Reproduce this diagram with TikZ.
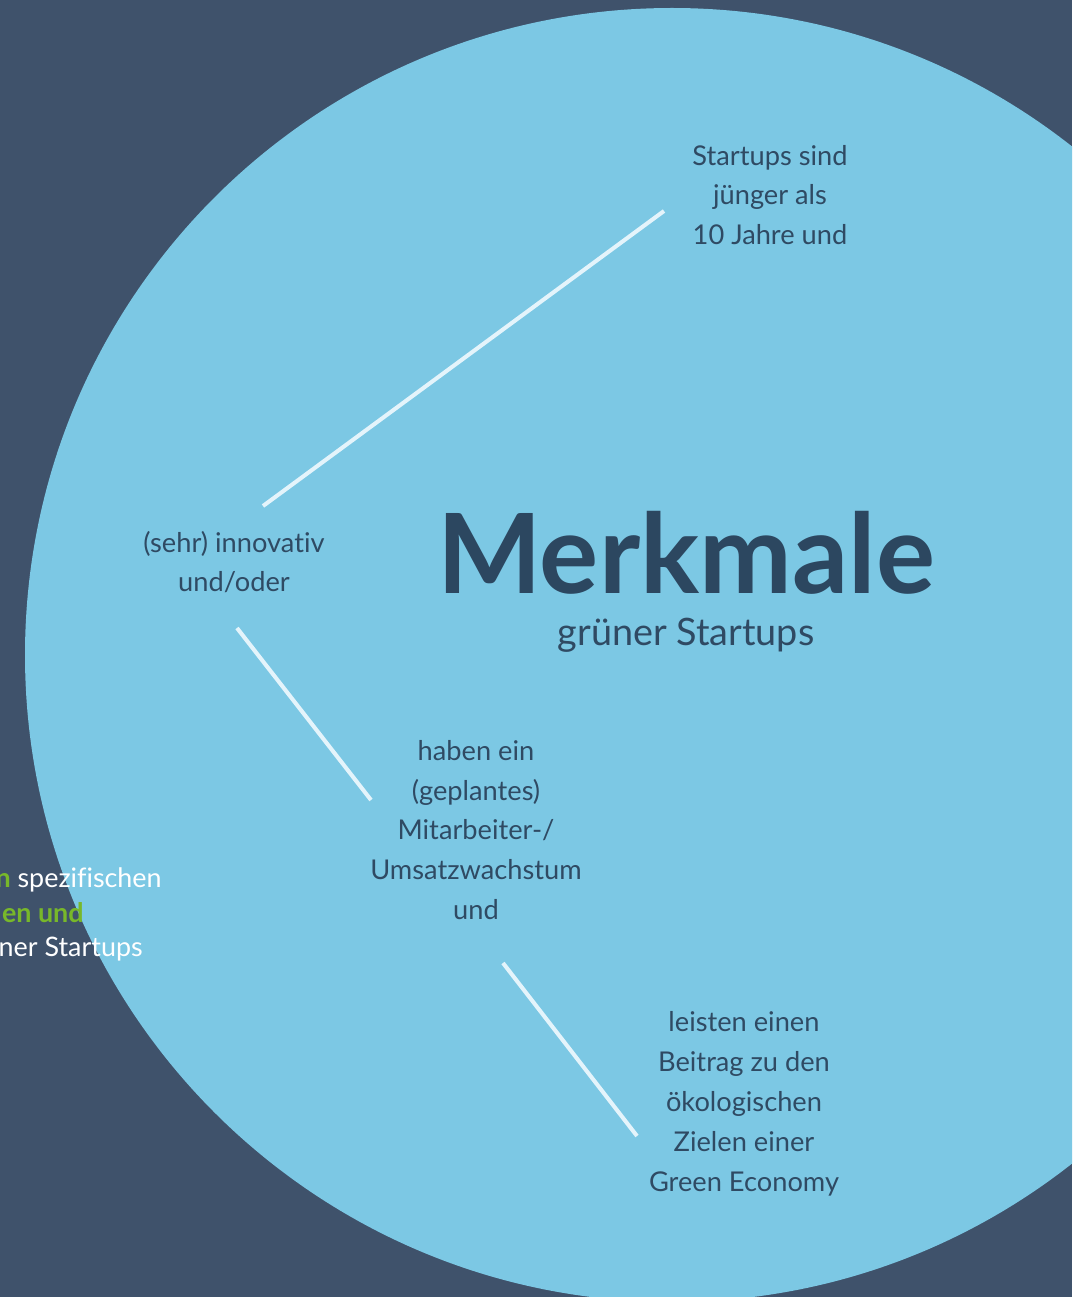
\documentclass[tikz,border=0pt]{standalone}
\usepackage{fontspec}
\setmainfont{Lato}[Ligatures=CommonOff]
\definecolor{bgslate}{HTML}{3F526B}
\definecolor{circblue}{HTML}{7CC8E4}
\definecolor{navy}{HTML}{2C4760}
\definecolor{txtblue}{HTML}{2F4A63}
\definecolor{linewhite}{HTML}{E4F4FB}
\definecolor{leafgreen}{HTML}{78B82A}
\tikzset{
  merkmal/.style={align=center, text=txtblue, inner sep=0pt,
    font=\fontsize{15.5}{22.7}\selectfont},
  spoke/.style={draw=linewhite, line width=2.3pt},
  cutoff/.style={inner sep=0pt, anchor=base east, text=white,
    font=\fontsize{15.3}{19}\selectfont}
}
\begin{document}
\begin{tikzpicture}[x=0.02cm, y=-0.02cm]
    \useasboundingbox (0,0) rectangle (1072,1297);
    \clip (0,0) rectangle (1072,1297);
    \fill[bgslate] (0,0) rectangle (1072,1297);
    \fill[circblue] (672,655) circle[radius=647];

    \node[cutoff] (c1) at (162,887) {\textbf{\color{leafgreen}n} spezifischen};
    \node[cutoff] (c2) at (84,922) {\textbf{\color{leafgreen}en und}};
    \node[cutoff] (c3) at (143,956) {ner Startups};

    \node[inner sep=0pt, anchor=base, text=navy,
      font=\fontsize{63}{65}\selectfont\bfseries] (title) at (686,593) {Merkmale};
    \node[inner sep=0pt, anchor=base, text=txtblue,
      font=\fontsize{21.5}{24}\selectfont] (sub) at (686,645) {grüner Startups};

    \node[merkmal] (jung) at (770,195) {Startups sind\\jünger als\\10 Jahre und};
    \node[merkmal] (innov) at (234,562) {(sehr) innovativ\\und/oder};
    \node[merkmal] (wachs) at (476,830) {haben ein\\(geplantes)\\Mitarbeiter-/\\Umsatzwachstum\\und};
    \node[merkmal] (oeko) at (744,1104) {leisten einen\\Beitrag zu den\\ökologischen\\Zielen einer\\Green Economy};

    \coordinate (s1a) at (263,506);
    \coordinate (s1b) at (664,211);
    \coordinate (s2a) at (237,628);
    \coordinate (s2b) at (371,800);
    \coordinate (s3a) at (503,963);
    \coordinate (s3b) at (637,1136);

    \draw[spoke] (s1a) -- (s1b);
    \draw[spoke] (s2a) -- (s2b);
    \draw[spoke] (s3a) -- (s3b);
\end{tikzpicture}
\end{document}
